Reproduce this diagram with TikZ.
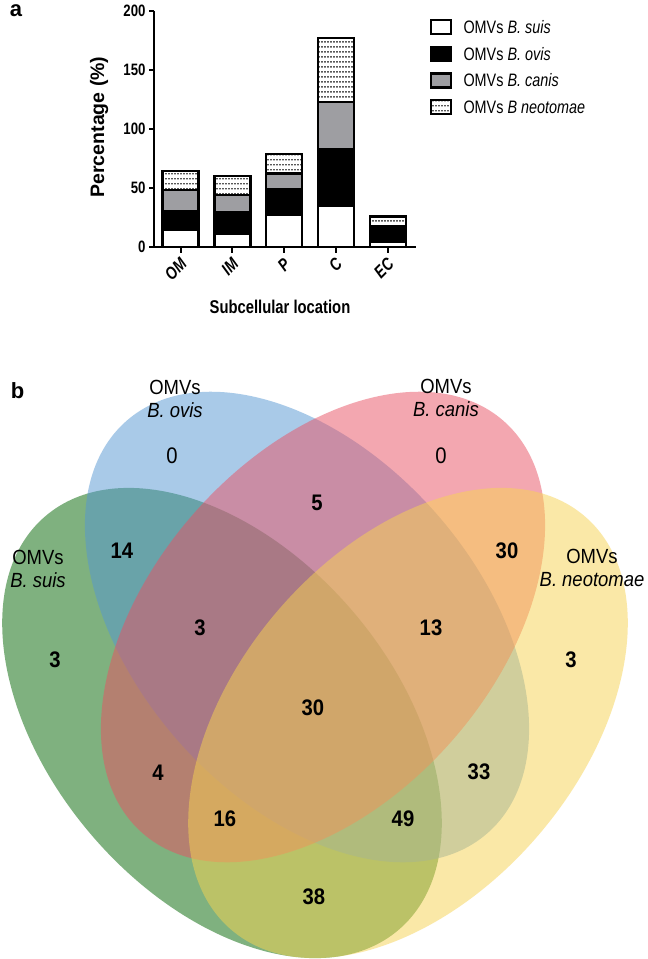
\documentclass[tikz,border=0pt]{standalone}
\usepackage{fontspec}
\setmainfont{Liberation Sans}
\newfontfamily\chartfont{Liberation Sans}[FakeStretch=0.8]
\newfontfamily\vennfont{Liberation Sans}[FakeStretch=0.9]
\usetikzlibrary{patterns}

% rows of small dots for the neotomae segments
\pgfdeclarepatternformonly{rowdots}{\pgfqpoint{0pt}{0pt}}{\pgfqpoint{3pt}{4.6pt}}{\pgfqpoint{3pt}{4.6pt}}{%
  \pgfpathrectangle{\pgfqpoint{0.6pt}{1.6pt}}{\pgfqpoint{1.5pt}{1.4pt}}\pgfusepath{fill}}

\definecolor{barGray}{RGB}{158,158,162}
\definecolor{vennGreen}{RGB}{0,101,0}
\definecolor{vennBlue}{RGB}{85,151,211}
\definecolor{vennPink}{RGB}{233,81,99}
\definecolor{vennYellow}{RGB}{247,211,81}

\tikzset{
  barseg/.style={draw=black, line width=2.4pt},
  axisline/.style={line width=2pt},
  ticklab/.style={font=\chartfont\bfseries\fontsize{16.5}{18}\selectfont, anchor=east},
  catlab/.style={font=\chartfont\bfseries\itshape\fontsize{17.5}{18}\selectfont, rotate=45, anchor=east, inner sep=0.5pt},
  legbox/.style={draw=black, line width=2.4pt},
  legtext/.style={font=\chartfont\fontsize{18}{20}\selectfont, anchor=west},
  vennset/.style={fill opacity=0.5},
  vnum/.style={font=\vennfont\bfseries\fontsize{22.5}{26}\selectfont},
  vzero/.style={font=\vennfont\fontsize{22.5}{26}\selectfont},
  vlab/.style={font=\vennfont\fontsize{20.5}{23}\selectfont, align=center},
  panel/.style={font=\bfseries\fontsize{22}{24}\selectfont}
}

\begin{document}
\begin{tikzpicture}[x=1pt, y=-1pt]
  \path[use as bounding box, fill=white] (0,0) rectangle (648,959);

  % panel a: stacked bars
  \node[panel] (panelA) at (16,11) {a};
  \begin{scope}[shift={(154,246.7)}, y=1.18pt]
    % OM
    \draw[barseg, fill=white] (8.5,0) rectangle (44.5,14);
    \draw[barseg, fill=black] (8.5,14) rectangle (44.5,30);
    \draw[barseg, fill=barGray] (8.5,30) rectangle (44.5,48);
    \draw[barseg, pattern=rowdots] (8.5,48) rectangle (44.5,64);
    % IM
    \draw[barseg, fill=white] (60.3,0) rectangle (96.3,11);
    \draw[barseg, fill=black] (60.3,11) rectangle (96.3,29);
    \draw[barseg, fill=barGray] (60.3,29) rectangle (96.3,44);
    \draw[barseg, pattern=rowdots] (60.3,44) rectangle (96.3,60);
    % P
    \draw[barseg, fill=white] (112.1,0) rectangle (148.1,27);
    \draw[barseg, fill=black] (112.1,27) rectangle (148.1,49);
    \draw[barseg, fill=barGray] (112.1,49) rectangle (148.1,62);
    \draw[barseg, pattern=rowdots] (112.1,62) rectangle (148.1,78.5);
    % C
    \draw[barseg, fill=white] (163.9,0) rectangle (199.9,35);
    \draw[barseg, fill=black] (163.9,35) rectangle (199.9,82.5);
    \draw[barseg, fill=barGray] (163.9,82.5) rectangle (199.9,122.5);
    \draw[barseg, pattern=rowdots] (163.9,122.5) rectangle (199.9,177);
    % EC
    \draw[barseg, fill=white] (215.7,0) rectangle (251.7,4.5);
    \draw[barseg, fill=black] (215.7,4.5) rectangle (251.7,15.5);
    \draw[barseg, fill=barGray] (215.7,15.5) rectangle (251.7,17.5);
    \draw[barseg, pattern=rowdots] (215.7,17.5) rectangle (251.7,25.5);

    \draw[axisline] (0,200) -- (0,0) -- (262,0);
    \draw[axisline] (-5,0) -- (0,0);
    \draw[axisline] (-5,50) -- (0,50);
    \draw[axisline] (-5,100) -- (0,100);
    \draw[axisline] (-5,150) -- (0,150);
    \draw[axisline] (-5,200) -- (0,200);
    \draw[axisline] (26.5,0) -- (26.5,-5);
    \draw[axisline] (78.3,0) -- (78.3,-5);
    \draw[axisline] (130.1,0) -- (130.1,-5);
    \draw[axisline] (181.9,0) -- (181.9,-5);
    \draw[axisline] (233.7,0) -- (233.7,-5);

    \node[ticklab] (yZero) at (-5,0) {0};
    \node[ticklab] (yFifty) at (-5,50) {50};
    \node[ticklab] (yHundred) at (-5,100) {100};
    \node[ticklab] (yOneFifty) at (-5,150) {150};
    \node[ticklab] (yTwoHundred) at (-5,200) {200};

    \node[catlab] (catOM) at (30,-12) {OM};
    \node[catlab] (catIM) at (81.8,-12) {IM};
    \node[catlab] (catP) at (133.6,-12) {P};
    \node[catlab] (catC) at (185.4,-12) {C};
    \node[catlab] (catEC) at (237.2,-12) {EC};

    \node[rotate=90, font=\bfseries\fontsize{19.5}{22}\selectfont] (yTitle) at (-55,101.4) {Percentage (\%)};
    \node[font=\chartfont\bfseries\fontsize{18.5}{20}\selectfont] (xTitle) at (126,-51) {Subcellular location};
  \end{scope}

  % legend
  \draw[legbox, fill=white] (431,20) rectangle (451,34);
  \draw[legbox, fill=black] (431,46.7) rectangle (451,60.7);
  \draw[legbox, fill=barGray] (431,73.3) rectangle (451,87.3);
  \draw[legbox, pattern=rowdots] (431,100) rectangle (451,114);
  \node[legtext] (legSuis) at (460,27) {OMVs \textit{B. suis}};
  \node[legtext] (legOvis) at (460,53.7) {OMVs \textit{B. ovis}};
  \node[legtext] (legCanis) at (460,80.3) {OMVs \textit{B. canis}};
  \node[legtext] (legNeo) at (460,107) {OMVs \textit{B neotomae}};

  % panel b: four-set Venn
  \node[panel] (panelB) at (17.5,390.5) {b};
  \fill[vennset, vennGreen, rotate around={-49.5:(222,723)}] (222,723) ellipse [x radius=272pt, y radius=172pt];
  \fill[vennset, vennBlue, rotate around={-48.8:(307,627)}] (307,627) ellipse [x radius=274pt, y radius=172pt];
  \fill[vennset, vennPink, rotate around={48.8:(323,627)}] (323,627) ellipse [x radius=274pt, y radius=172pt];
  \fill[vennset, vennYellow, rotate around={49.5:(408,723)}] (408,723) ellipse [x radius=272pt, y radius=172pt];

  \node[vlab] (labOvis) at (175,399) {OMVs\\\textit{B. ovis}};
  \node[vlab] (labCanis) at (446,398) {OMVs\\\textit{B. canis}};
  \node[vlab] (labSuis) at (38,569) {OMVs\\\textit{B. suis}};
  \node[vlab] (labNeo) at (592,568) {OMVs\\\textit{B. neotomae}};

  \node[vzero] (nOvis) at (172,456) {0};
  \node[vzero] (nCanis) at (441,456) {0};
  \node[vnum] (nOvisCanis) at (317,503) {5};
  \node[vnum] (nSuisOvis) at (122,551) {14};
  \node[vnum] (nCanisNeo) at (507,551) {30};
  \node[vnum] (nSuis) at (55,660) {3};
  \node[vnum] (nSuisOvisCanis) at (200,628) {3};
  \node[vnum] (nOvisCanisNeo) at (431,628) {13};
  \node[vnum] (nNeo) at (571,660) {3};
  \node[vnum] (nAll) at (313,708) {30};
  \node[vnum] (nSuisCanis) at (158,773) {4};
  \node[vnum] (nOvisNeo) at (479,772) {33};
  \node[vnum] (nSuisCanisNeo) at (225,819) {16};
  \node[vnum] (nSuisOvisNeo) at (403,819) {49};
  \node[vnum] (nSuisNeo) at (314,897) {38};
\end{tikzpicture}
\end{document}
